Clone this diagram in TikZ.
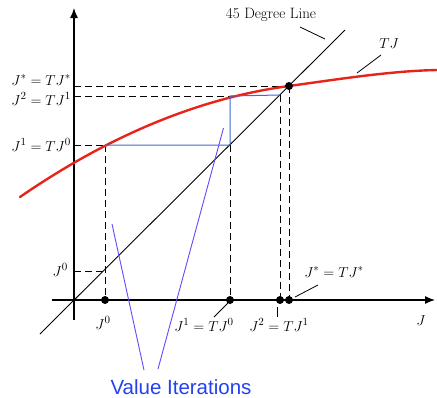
\documentclass[tikz,border=0pt]{standalone}
\usepackage{fontspec}
\newfontfamily\vifont{Liberation Sans}
\usetikzlibrary{arrows.meta}
\definecolor{tjred}{RGB}{232,35,25}
\definecolor{iterblue}{RGB}{65,105,215}
\definecolor{leadblue}{RGB}{95,75,250}
\definecolor{txtblue}{RGB}{35,65,240}
\begin{document}
\begin{tikzpicture}[x=1pt,y=-1pt,
  axis/.style={line width=1.2pt,-{Latex[length=10pt,width=8pt]}},
  dline/.style={line width=0.9pt,dash pattern=on 7pt off 4pt},
  iter/.style={draw=iterblue,line width=1pt},
  dot/.style={circle,fill=black,inner sep=0pt,minimum size=8pt},
  lbl/.style={font=\fontsize{15.5}{18}\selectfont,inner sep=1pt},
  leader/.style={line width=0.8pt},
  vilead/.style={draw=leadblue,line width=0.9pt}]
\useasboundingbox (0,0) rectangle (437,397);
% axes
\coordinate (xs) at (52,300);
\coordinate (xe) at (435,300);
\coordinate (ys) at (74,320);
\coordinate (ye) at (74,8);
\draw[axis] (xs) -- (xe);
\draw[axis] (ys) -- (ye);
% 45 degree line
\coordinate (d1) at (40,334);
\coordinate (d2) at (345,30);
\draw[line width=0.9pt] (d1) -- (d2);
% key points
\coordinate (a0) at (105,145);
\coordinate (b1) at (230,145);
\coordinate (a1) at (230,96);
\coordinate (b2) at (280,95);
\coordinate (ls) at (74,86);
\coordinate (l2) at (74,96);
\coordinate (l1) at (74,145);
\coordinate (l0) at (74,271);
\coordinate (r0) at (105,271);
% dashed guides
\draw[dline] (ls) -- (289,86);
\draw[dline] (l2) -- (a1);
\draw[dline] (l1) -- (a0);
\draw[dline] (l0) -- (r0);
\draw[dline] (a0) -- (105,300);
\draw[dline] (b1) -- (230,300);
\draw[dline] (b2) -- (280,300);
\draw[dline] (289,86) -- (289,300);
% TJ curve
\draw[tjred,line width=2.4pt,line cap=round] (20,197) .. controls (110,135) and (200,98) .. (289,86)
  .. controls (340,79) and (390,71) .. (437,70);
% iterations
\draw[iter] (a0) -- (b1) -- (a1) -- (b2);
% dots
\node[dot] (p0) at (105,300) {};
\node[dot] (p1) at (230,300) {};
\node[dot] (p2) at (280,300) {};
\node[dot] (ps) at (289,300) {};
\node[dot] (fp) at (289,86) {};
% left labels
\node[lbl,anchor=east] (tls) at (72,80) {$J^*=TJ^*$};
\node[lbl,anchor=east] (tl2) at (72,99) {$J^2=TJ^1$};
\node[lbl,anchor=east] (tl1) at (72,145) {$J^1=TJ^0$};
\node[lbl,anchor=east] (tl0) at (69,270) {$J^0$};
% bottom labels
\node[lbl] (tb0) at (103,323) {$J^0$};
\node[lbl] (tb1) at (204,325) {$J^1=TJ^0$};
\node[lbl] (tb2) at (279,325) {$J^2=TJ^1$};
\node[lbl] (tbs) at (334,272) {$J^*=TJ^*$};
\node[lbl] (tJ) at (421,321) {$J$};
\coordinate (e1a) at (228,303); \coordinate (e1b) at (214,317);
\coordinate (e2a) at (277,307); \coordinate (e2b) at (277,317);
\coordinate (e3a) at (295,297); \coordinate (e3b) at (318,285);
\draw[leader] (e1a) -- (e1b);
\draw[leader] (e2a) -- (e2b);
\draw[leader] (e3a) -- (e3b);
% top labels
\node[font=\fontsize{15}{18}\selectfont,inner sep=1pt] (t45) at (271,15) {45 Degree Line};
\coordinate (g1) at (300,27); \coordinate (g2) at (325,39);
\draw[leader] (g1) -- (g2);
\node[lbl] (tTJ) at (389,44) {$TJ$};
\coordinate (h1) at (381,55); \coordinate (h2) at (357,73);
\draw[leader] (h1) -- (h2);
% value iterations
\node[font=\vifont\fontsize{20.5}{24}\selectfont,text=txtblue,anchor=base,inner sep=0pt] (vi) at (181,394) {Value Iterations};
\coordinate (v1a) at (144,370); \coordinate (v1b) at (112,224);
\coordinate (v2a) at (158,369); \coordinate (v2b) at (223.5,128);
\draw[vilead] (v1a) -- (v1b);
\draw[vilead] (v2a) -- (v2b);
\end{tikzpicture}
\end{document}
